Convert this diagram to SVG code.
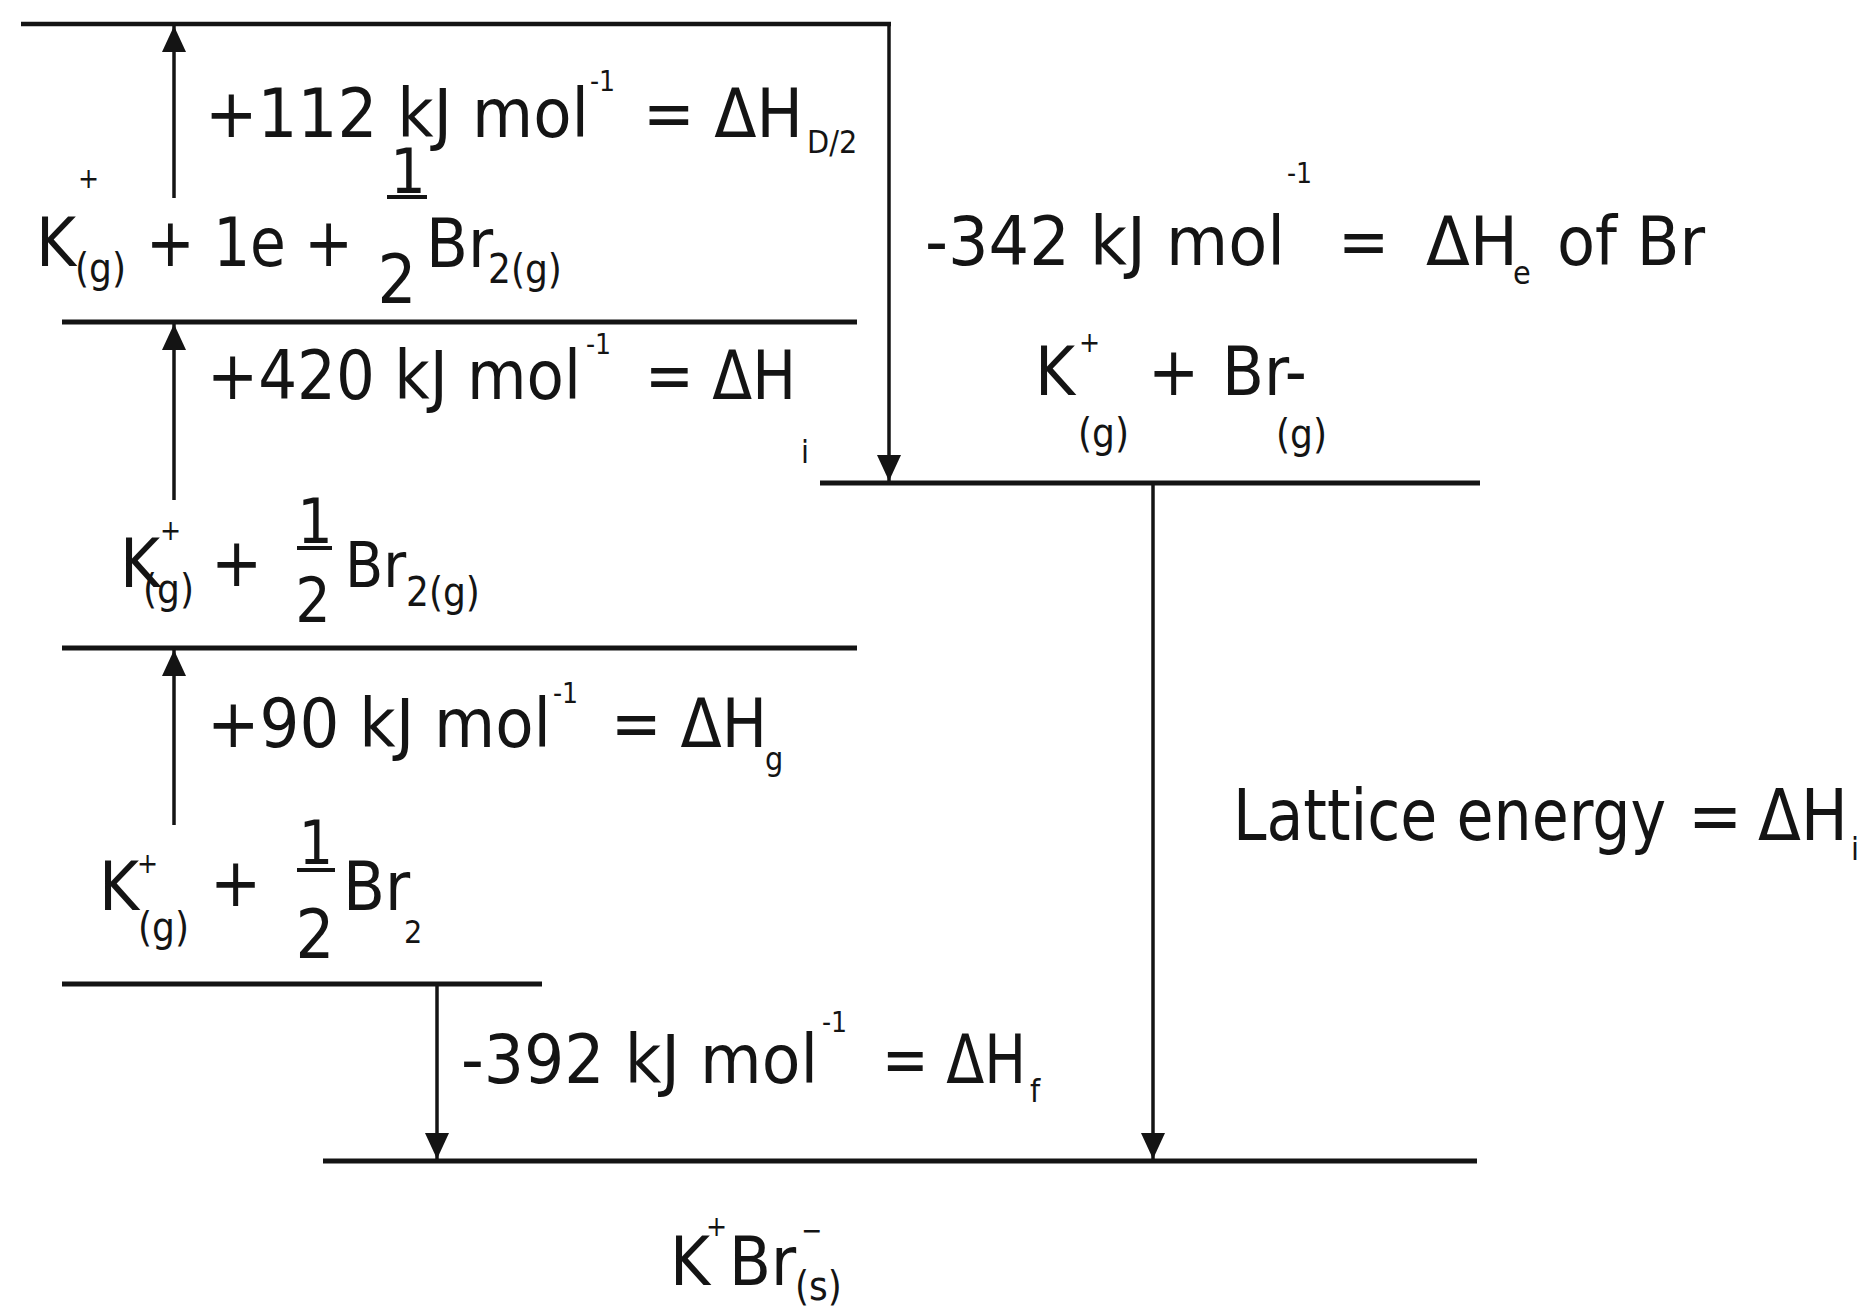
<svg xmlns="http://www.w3.org/2000/svg" width="1866" height="1306" viewBox="0 0 1866 1306">
<defs>
<style>
text{font-family:"DejaVu Sans Condensed","DejaVu Sans","Liberation Sans",sans-serif;font-stretch:condensed;fill:#141414}
.b{font-size:68px}
.s{font-size:40px}
.x{font-size:32px}
.p{font-size:28px}
.lvl{stroke:#141414;stroke-width:5;fill:none}
.arr{stroke:#141414;stroke-width:3.5;fill:none;marker-end:url(#ah)}
.bar{stroke:#141414;stroke-width:4}
</style>
<marker id="ah" markerUnits="userSpaceOnUse" markerWidth="27" markerHeight="24" refX="26" refY="12" orient="auto">
<path d="M0,0 L26,12 L0,24 Z" fill="#141414"/>
</marker>
</defs>
<rect width="1866" height="1306" fill="#ffffff"/>

<g id="level-atoms">
<line class="lvl" x1="21" y1="24" x2="891" y2="24" style="stroke-width:4.5"/>
</g>

<g id="level-ionised">
<line class="lvl" x1="62" y1="322" x2="857" y2="322"/>
<text class="p" x="78" y="188">+</text>
<text class="b" x="36" y="266">K</text>
<text class="s" x="75" y="282">(g)</text>
<text class="b" x="146" y="266" textLength="207" lengthAdjust="spacingAndGlyphs">+ 1e +</text>
<text class="b" x="408" y="193" text-anchor="middle" style="font-size:62px">1</text>
<line class="bar" x1="387" y1="197" x2="427" y2="197"/>
<text class="b" x="397" y="303" text-anchor="middle">2</text>
<text class="b" x="426" y="267">Br</text>
<text class="s" x="488" y="283">2(g)</text>
</g>

<g id="level-gas-bromine">
<line class="lvl" x1="62" y1="648" x2="857" y2="648"/>
<text class="p" x="160" y="540">+</text>
<text class="b" x="120" y="587">K</text>
<text class="s" x="143" y="603">(g)</text>
<text class="b" x="211" y="586">+</text>
<text class="b" x="315" y="543" text-anchor="middle" style="font-size:62px">1</text>
<line class="bar" x1="297" y1="548" x2="332" y2="548"/>
<text class="b" x="313" y="622" text-anchor="middle" style="font-size:62px">2</text>
<text class="b" x="345" y="587" style="font-size:62px">Br</text>
<text class="s" x="406" y="606">2(g)</text>
</g>

<g id="level-elements">
<line class="lvl" x1="62" y1="984" x2="542" y2="984"/>
<text class="p" x="137" y="873">+</text>
<text class="b" x="99" y="910">K</text>
<text class="s" x="138" y="941">(g)</text>
<text class="b" x="210" y="906">+</text>
<text class="b" x="316" y="864" text-anchor="middle" style="font-size:60px">1</text>
<line class="bar" x1="297" y1="870" x2="335" y2="870"/>
<text class="b" x="315" y="958" text-anchor="middle">2</text>
<text class="b" x="343" y="910">Br</text>
<text class="x" x="404" y="943">2</text>
</g>

<g id="level-ions">
<line class="lvl" x1="820" y1="483" x2="1480" y2="483"/>
<text class="b" x="1035" y="395">K</text>
<text class="p" x="1079" y="352">+</text>
<text class="b" x="1148" y="395">+</text>
<text class="b" x="1222" y="395">Br-</text>
<text class="s" x="1078" y="447">(g)</text>
<text class="s" x="1276" y="448">(g)</text>
</g>

<g id="level-solid">
<line class="lvl" x1="323" y1="1161" x2="1477" y2="1161"/>
<text class="b" x="670" y="1285">K</text>
<text class="p" x="706" y="1236">+</text>
<text class="b" x="729" y="1285">Br</text>
<text class="p" x="801" y="1240">−</text>
<text class="s" x="795" y="1300">(s)</text>
</g>

<g id="connectors">
<path class="arr" d="M174,198 V26"/>
<path class="arr" d="M174,500 V324"/>
<path class="arr" d="M174,825 V650"/>
<path class="arr" d="M889,24 V481"/>
<path class="arr" d="M437,984 V1159"/>
<path class="arr" d="M1153,483 V1159"/>
</g>

<g id="label-dissociation">
<text class="b" x="205" y="137" textLength="384" lengthAdjust="spacingAndGlyphs">+112 kJ mol</text>
<text class="p" x="590" y="91">-1</text>
<text class="b" x="643" y="137" textLength="160" lengthAdjust="spacingAndGlyphs">= ΔH</text>
<text class="x" x="807" y="153">D/2</text>
</g>

<g id="label-ionisation">
<text class="b" x="207" y="399" textLength="374" lengthAdjust="spacingAndGlyphs">+420 kJ mol</text>
<text class="p" x="586" y="354">-1</text>
<text class="b" x="645" y="399" textLength="151" lengthAdjust="spacingAndGlyphs">= ΔH</text>
<text class="x" x="801" y="463">i</text>
</g>

<g id="label-atomisation">
<text class="b" x="207" y="747" textLength="344" lengthAdjust="spacingAndGlyphs">+90 kJ mol</text>
<text class="p" x="553" y="703">-1</text>
<text class="b" x="611" y="747" textLength="156" lengthAdjust="spacingAndGlyphs">= ΔH</text>
<text class="x" x="765" y="770">g</text>
</g>

<g id="label-formation">
<text class="b" x="461" y="1083" textLength="357" lengthAdjust="spacingAndGlyphs">-392 kJ mol</text>
<text class="p" x="822" y="1032">-1</text>
<text class="b" x="882" y="1083" textLength="144" lengthAdjust="spacingAndGlyphs">= ΔH</text>
<text class="x" x="1030" y="1102">f</text>
</g>

<g id="label-electron-affinity">
<text class="b" x="925" y="265" textLength="360" lengthAdjust="spacingAndGlyphs">-342 kJ mol</text>
<text class="p" x="1287" y="183">-1</text>
<text class="b" x="1338" y="265">=</text>
<text class="b" x="1426" y="265" textLength="92" lengthAdjust="spacingAndGlyphs">ΔH</text>
<text class="x" x="1513" y="284">e</text>
<text class="b" x="1557" y="265" textLength="148" lengthAdjust="spacingAndGlyphs">of Br</text>
</g>

<g id="label-lattice">
<text class="b" x="1233" y="840" style="font-size:72px" textLength="433" lengthAdjust="spacingAndGlyphs">Lattice energy</text>
<text class="b" x="1688" y="840" style="font-size:72px">=</text>
<text class="b" x="1758" y="840" style="font-size:72px" textLength="90" lengthAdjust="spacingAndGlyphs">ΔH</text>
<text class="x" x="1851" y="860">i</text>
</g>
</svg>
